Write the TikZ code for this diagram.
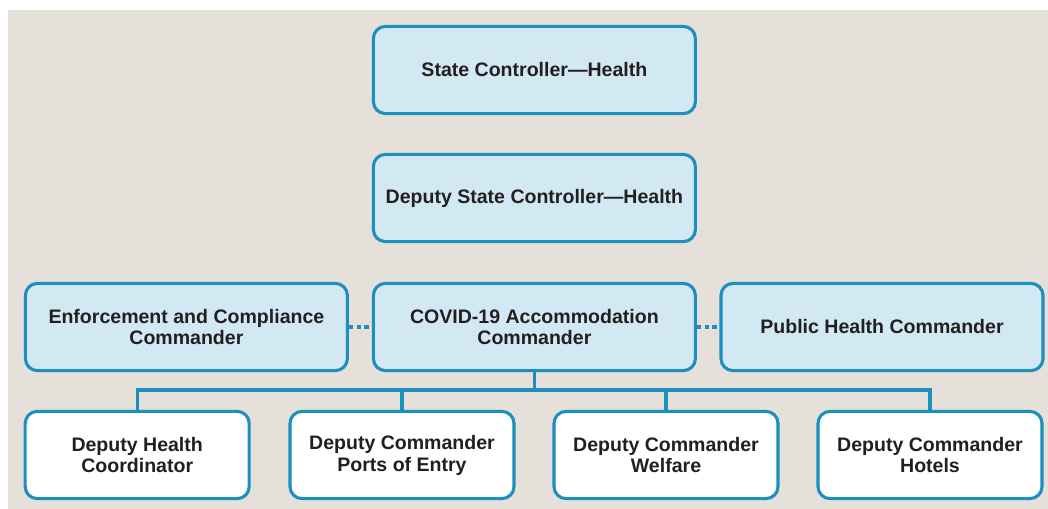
\documentclass[tikz,border=0pt]{standalone}
\usepackage{fontspec}
\setmainfont{Liberation Sans}
\definecolor{bline}{HTML}{1C8FBE}
\definecolor{bfill}{HTML}{D2E9F3}
\definecolor{bgnd}{HTML}{E5E0DA}
\definecolor{ink}{HTML}{231F20}
\begin{document}
\begin{tikzpicture}[every node/.style={font=\bfseries\fontsize{13.9}{15.6}\selectfont, text=ink},
  box/.style={draw=bline, line width=2.2pt, rounded corners=0.3cm, fill=bfill, align=center, minimum width=8.05cm, minimum height=2.18cm},
  sub/.style={box, fill=white, minimum width=5.6cm},
  link/.style={draw=bline, line width=2.2pt}]
  \useasboundingbox (0,0) rectangle (26.2,-12.725);
  \fill[bgnd] (0.2,-0.25) rectangle (26.2,-12.725);
  % chain of command
  \node[box] (state) at (13.36,-1.75) {State Controller---Health};
  \node[box] (deputy) at (13.36,-4.95) {Deputy State Controller---Health};
  \node[box] (enf) at (4.66,-8.175) {Enforcement and Compliance\\Commander};
  \node[box] (covid) at (13.36,-8.175) {COVID-19 Accommodation\\Commander};
  \node[box] (pubh) at (22.05,-8.175) {Public Health Commander};
  % deputies
  \node[sub] (dhc) at (3.43,-11.375) {Deputy Health\\Coordinator};
  \node[sub] (ports) at (10.05,-11.375) {Deputy Commander\\Ports of Entry};
  \node[sub] (welf) at (16.65,-11.375) {Deputy Commander\\Welfare};
  \node[sub] (hotels) at (23.25,-11.375) {Deputy Commander\\Hotels};
  \coordinate (bus) at (13.36,-9.75);
  \draw[link] (covid.south) -- (bus);
  \draw[link] (dhc.north) |- (bus) -| (hotels.north);
  \draw[link] (ports.north) -- (ports.north |- bus);
  \draw[link] (welf.north) -- (welf.north |- bus);
  \draw[link, dash pattern=on 0.11cm off 0.08cm] (enf.east) -- (covid.west);
  \draw[link, dash pattern=on 0.11cm off 0.08cm] (covid.east) -- (pubh.west);
\end{tikzpicture}
\end{document}
